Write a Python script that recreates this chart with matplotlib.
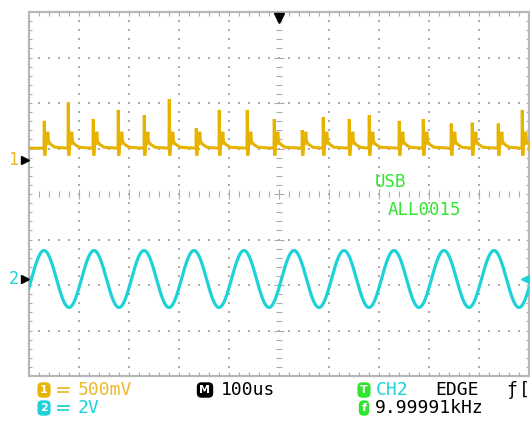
import numpy as np
import matplotlib
matplotlib.use("Agg")
import matplotlib.pyplot as plt
from matplotlib.collections import LineCollection
from matplotlib.patches import Rectangle

# CH1 spikes: time (us, relative to trigger) and peak level (V above CH1 ground)
ch1_spike_t_us = [-470, -422, -372, -322, -270, -220, -166, -120, -64, -10,
                  46, 88, 140, 180, 240, 288, 344, 386, 438, 486]
ch1_spike_v = [0.43, 0.63, 0.45, 0.55, 0.49, 0.67, 0.35, 0.55, 0.55, 0.45,
               0.33, 0.47, 0.45, 0.49, 0.43, 0.45, 0.40, 0.41, 0.40, 0.55]
ch1_baseline_v = 0.13
ch1_scale_v_per_div = 0.5
ch1_ground_div = 0.747

ch2_freq_khz = 9.99991
ch2_amplitude_v = 1.25
ch2_zero_cross_us = 5.0
ch2_scale_v_per_div = 2.0
ch2_ground_div = -1.868
timebase_us_per_div = 100

labels_row1 = ["500mV", "100us", "CH2", "EDGE"]
labels_row2 = ["2V", "9.99991kHz"]
status_texts = ["USB", "ALL0015"]

# ---------------- figure ----------------
W, H = 530, 428
fig = plt.figure(figsize=(W / 100, H / 100), dpi=100)
fig.patch.set_facecolor("white")
ax = fig.add_axes([29 / W, (H - 376) / H, 500 / W, 364 / H])
ax.set_xlim(-5, 5)
ax.set_ylim(-4, 4)
ax.axis("off")

GRID = "#ababab"
GOLD = "#e6b400"
GOLD_T = "#ebb92a"
CYAN = "#1ed2d8"
GREEN = "#2ee62e"

# border
ax.add_patch(Rectangle((0, 0), 1, 1, transform=ax.transAxes, fill=False,
                       edgecolor="#b8b8b8", lw=1.6, clip_on=False, zorder=1))

xs_minor = np.round(np.arange(-5, 5.001, 0.2), 3)
ys_minor = np.round(np.arange(-4, 4.001, 0.2), 3)

# dotted graticule
dx, dy = [], []
for yy in [-3, -2, -1, 1, 2, 3]:
    for xx in xs_minor[1:-1]:
        dx.append(xx); dy.append(yy)
for xx in [-4, -3, -2, -1, 1, 2, 3, 4]:
    for yy in ys_minor[1:-1]:
        dx.append(xx); dy.append(yy)
ax.scatter(dx, dy, s=1.6, marker="s", color=GRID, linewidths=0, zorder=1)

segs = []
# centre horizontal line ticks
for xx in xs_minor[1:-1]:
    h = 0.1 if abs(xx - round(xx)) < 1e-6 else 0.06
    segs.append([(xx, -h), (xx, h)])
# centre vertical line ticks
for yy in ys_minor[1:-1]:
    w = 0.1 if abs(yy - round(yy)) < 1e-6 else 0.065
    segs.append([(-w, yy), (w, yy)])
# border ticks
for xx in xs_minor[1:-1]:
    segs.append([(xx, -4), (xx, -3.92)])
    segs.append([(xx, 4), (xx, 3.92)])
for yy in ys_minor[1:-1]:
    segs.append([(-5, yy), (-4.94, yy)])
    segs.append([(5, yy), (4.94, yy)])
ax.add_collection(LineCollection(segs, colors=GRID, linewidths=0.8, zorder=1))

# ---------------- CH1 trace ----------------
shape_dt = [0.0, 0.6, 1.6, 3.0, 6.0, 7.5, 9.0, 14.0, 22.0]
shape_rel = [None, "peak", -0.08, 0.05, 0.05, 0.18, 0.07, 0.04, 0.01]
t1 = [-500.0]
v1 = [ch1_baseline_v]
for ts, pk in zip(ch1_spike_t_us, ch1_spike_v):
    for d, r in zip(shape_dt, shape_rel):
        t1.append(ts + d)
        if r is None:
            v1.append(ch1_baseline_v)
        elif r == "peak":
            v1.append(pk)
        else:
            v1.append(ch1_baseline_v + r)
t1.append(500.0)
v1.append(ch1_baseline_v)
t1 = np.array(t1)
v1 = np.array(v1)
ax.plot(t1 / timebase_us_per_div, ch1_ground_div + v1 / ch1_scale_v_per_div,
        color=GOLD, lw=2.2, solid_joinstyle="miter", zorder=3)

# ---------------- CH2 trace ----------------
t2 = np.linspace(-500, 500, 2001)
v2 = ch2_amplitude_v * np.sin(2 * np.pi * ch2_freq_khz * (t2 - ch2_zero_cross_us) * 1e-3)
ax.plot(t2 / timebase_us_per_div, ch2_ground_div + v2 / ch2_scale_v_per_div,
        color=CYAN, lw=2.3, zorder=3)

# ---------------- markers ----------------
ax.plot([-5.09], [ch1_ground_div], marker=">", color="black", ms=6, clip_on=False)
ax.plot([-5.09], [ch2_ground_div], marker=">", color="black", ms=6, clip_on=False)
ax.plot([0], [3.86], marker="v", color="black", ms=7, clip_on=False)
ax.plot([4.92], [ch2_ground_div], marker="<", color=CYAN, ms=6, clip_on=False)


def px(x, y):
    return x / W, 1 - y / H


MONO = "DejaVu Sans Mono"
fig.text(*px(13, 160), "1", color=GOLD_T, fontsize=12, family=MONO, ha="center", va="center")
fig.text(*px(14, 279), "2", color=CYAN, fontsize=12, family=MONO, ha="center", va="center")

# status texts
fig.text(*px(375, 182), status_texts[0], color=GREEN, fontsize=12.5, family=MONO, va="center")
fig.text(*px(388, 210), status_texts[1], color=GREEN, fontsize=12.5, family=MONO, va="center")


def icon(x, y, ch, fc):
    fig.text(*px(x, y), ch, color="white", fontsize=8, family="DejaVu Sans", weight="bold",
             ha="center", va="center",
             bbox=dict(boxstyle="round,pad=0.18,rounding_size=0.35", fc=fc, ec=fc))


def dc(x, y, col):
    x0, x1 = x / W, (x + 11) / W
    yt = 1 - (y - 2) / H
    yb = 1 - (y + 2) / H
    fig.add_artist(plt.Line2D([x0, x1], [yt, yt], color=col, lw=1.3, transform=fig.transFigure))
    for k in range(3):
        a = (x + k * 4) / W
        fig.add_artist(plt.Line2D([a, a + 2.2 / W], [yb, yb], color=col, lw=1.3,
                                  transform=fig.transFigure))


R1, R2 = 390, 408
FS = 13
icon(44, R1, "1", GOLD)
dc(58, R1, GOLD_T)
fig.text(*px(78, R1), labels_row1[0], color=GOLD_T, fontsize=FS, family=MONO, va="center")
icon(44, R2, "2", CYAN)
dc(58, R2, CYAN)
fig.text(*px(78, R2), labels_row2[0], color=CYAN, fontsize=FS, family=MONO, va="center")

icon(205, R1, "M", "black")
fig.text(*px(221, R1), labels_row1[1], color="black", fontsize=FS, family=MONO, va="center")

icon(364, R1, "T", GREEN)
fig.text(*px(376, R1), labels_row1[2], color=CYAN, fontsize=FS, family=MONO, va="center")
fig.text(*px(435, R1), labels_row1[3], color="black", fontsize=FS, family=MONO, va="center")
fig.text(*px(506, R1), "ƒ", color="black", fontsize=FS, family=MONO, va="center")
fig.text(*px(519, R1), "[", color="black", fontsize=FS, family=MONO, va="center")

icon(364, R2, "f", GREEN)
fig.text(*px(375, R2), labels_row2[1], color="black", fontsize=FS, family=MONO, va="center")

fig.savefig("out.png", dpi=100, facecolor="white")
